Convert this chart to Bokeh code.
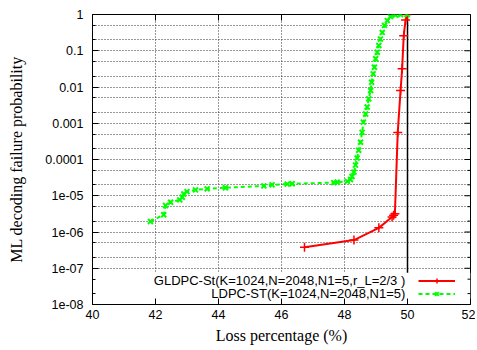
import math
from bokeh.plotting import figure
from bokeh.models import FixedTicker, Span, BoxAnnotation, Legend, LegendItem, Label
from bokeh.embed import file_html
from bokeh.resources import INLINE

# ---------------- data ----------------
gldpc_x = [46.73, 48.30, 49.09, 49.51, 49.56, 49.60, 49.69, 49.78, 49.83, 49.88, 49.94, 49.99]
gldpc_y = [3.8e-7, 6.0e-7, 1.3e-6, 2.6e-6, 2.9e-6, 3.2e-6, 5.6e-4, 8.0e-3, 3.2e-2, 0.26, 0.71, 1.0]

ldpc_x = [41.84, 42.26, 42.32, 42.48, 42.77, 42.85, 42.90, 43.00, 43.27, 43.64, 44.22,
          45.44, 45.70, 46.18, 46.34, 47.66, 47.77, 48.09, 48.19, 48.24, 48.30, 48.35,
          48.40, 48.45, 48.51, 48.56, 48.60, 48.67, 48.72, 48.77, 48.83, 48.86, 48.91,
          48.95, 48.99, 49.04, 49.09, 49.14, 49.20, 49.27, 49.36, 49.46, 49.62, 49.78, 49.99]
ldpc_y = [1.95e-6, 3.0e-6, 5.4e-6, 6.6e-6, 7.7e-6, 9.1e-6, 1.12e-5, 1.3e-5, 1.45e-5, 1.55e-5, 1.66e-5,
          1.87e-5, 2.0e-5, 2.1e-5, 2.15e-5, 2.3e-5, 2.35e-5, 2.5e-5, 2.8e-5, 3.4e-5, 4.5e-5, 7.0e-5,
          1.1e-4, 1.8e-4, 3.0e-4, 5.6e-4, 1.07e-3, 1.8e-3, 2.8e-3, 4.7e-3, 8.0e-3, 1.35e-2, 2.3e-2,
          3.5e-2, 6.0e-2, 9.1e-2, 0.14, 0.21, 0.32, 0.5, 0.68, 0.88, 0.97, 0.99, 1.0]

series_labels = ["GLDPC-St(K=1024,N=2048,N1=5,r_L=2/3 )", "LDPC-ST(K=1024,N=2048,N1=5)"]

x_ticks = [40, 42, 44, 46, 48, 50, 52]
y_ticks = [1e-8, 1e-7, 1e-6, 1e-5, 1e-4, 1e-3, 1e-2, 1e-1, 1]
y_tick_labels = ["1e-08", "1e-07", "1e-06", "1e-05", "0.0001", "0.001", "0.01", "0.1", "1"]
y_minor = [m * d for d in y_ticks[:-1] for m in (2, 5)]

X_MIN, X_MAX = 40, 52
Y_MIN, Y_MAX = 1e-8, 1
limit_x = 50          # vertical reference line

SANS = "Liberation Sans"
SERIF = "Liberation Serif"

p = figure(frame_width=378, frame_height=290, x_range=(X_MIN, X_MAX), y_range=(Y_MIN, Y_MAX),
           y_axis_type="log", output_backend="svg", toolbar_location=None,
           min_border_left=92, min_border_right=5, min_border_top=14,
           min_border_bottom=42)
p.background_fill_color = "white"
p.border_fill_color = "white"
p.outline_line_color = "black"
p.outline_line_width = 1

xt = FixedTicker(ticks=x_ticks)
yt = FixedTicker(ticks=y_ticks, minor_ticks=y_minor)
xax = p.xaxis[0]
yax = p.yaxis[0]
xax.ticker = xt
yax.ticker = yt
yax.major_label_overrides = {t: l for t, l in zip(y_ticks, y_tick_labels)}

# grids
grid_col = "#333333"
p.xgrid.grid_line_color = grid_col
p.xgrid.grid_line_dash = "1 2"
p.ygrid.grid_line_color = grid_col
p.ygrid.grid_line_dash = "1 2"
p.ygrid.minor_grid_line_color = grid_col
p.ygrid.minor_grid_line_dash = "1 2"

xax.minor_tick_line_color = None
for ax in [xax, yax]:
    ax.major_tick_in = 6
    ax.major_tick_out = 0
    ax.minor_tick_in = 3
    ax.minor_tick_out = 0
    ax.axis_line_color = "black"
    ax.major_tick_line_color = "black"
    ax.major_label_text_font = SANS
    ax.major_label_text_font_size = "12.5px"
    ax.major_label_text_color = "black"
xax.major_label_standoff = 5
yax.major_label_standoff = 9

xax.axis_label = "Loss percentage (%)"
yax.axis_label = "ML decoding failure probability"
for ax in [xax, yax]:
    ax.axis_label_text_font = SERIF
    ax.axis_label_text_font_style = "normal"
    ax.axis_label_text_font_size = "16px"
    ax.axis_label_text_color = "black"
xax.axis_label_standoff = 5
yax.axis_label_standoff = 17

# mirrored ticks on the top and right borders (dash markers clipped by the frame)
p.scatter([X_MAX] * len(y_ticks), y_ticks, marker="dash", size=12, line_color="black",
          line_width=1)
p.scatter([X_MAX] * len(y_minor), y_minor, marker="dash", size=6, line_color="black",
          line_width=1)
p.scatter(x_ticks, [Y_MAX] * len(x_ticks), marker="dash", size=12, angle=math.pi / 2,
          line_color="black", line_width=1)

# reference line and opaque key region
vline = Span(location=limit_x, dimension="height", line_color="black", line_width=1.5,
             level="underlay")
p.add_layout(vline)
key_bg = BoxAnnotation(bottom=Y_MIN, top=7.5e-8, fill_color="white", fill_alpha=1.0,
                       line_color=None, level="underlay")
p.add_layout(key_bg)

# series
red = "#ff0000"
green = "#00ff00"
r1l = p.line(gldpc_x, gldpc_y, line_color=red, line_width=2)
r1m = p.scatter(gldpc_x, gldpc_y, marker="cross", size=9, line_color=red, line_width=1.5)
r2l = p.line(ldpc_x, ldpc_y, line_color=green, line_width=2, line_dash="4 3")
r2m = p.scatter(ldpc_x, ldpc_y, marker="x", size=7, line_color=green, line_width=2)

legend = Legend(items=[LegendItem(label=" ", renderers=[r1l, r1m]),
                       LegendItem(label=" ", renderers=[r2l, r2m])],
                location=(326, 4), padding=0, margin=0, spacing=0,
                glyph_width=37, glyph_height=13, label_height=13, label_width=0,
                label_standoff=0, label_text_font_size="12px",
                border_line_color=None, background_fill_alpha=0)
p.add_layout(legend, "center")

label_y = [4.6e-8, 2.0e-8]
for txt, ly in zip(series_labels, label_y):
    p.add_layout(Label(x=49.93, y=ly, text=txt, text_align="right", text_baseline="middle",
                       text_font=SANS, text_font_size="13px", text_color="black"))

open("out.html", "w").write(file_html(p, INLINE))
